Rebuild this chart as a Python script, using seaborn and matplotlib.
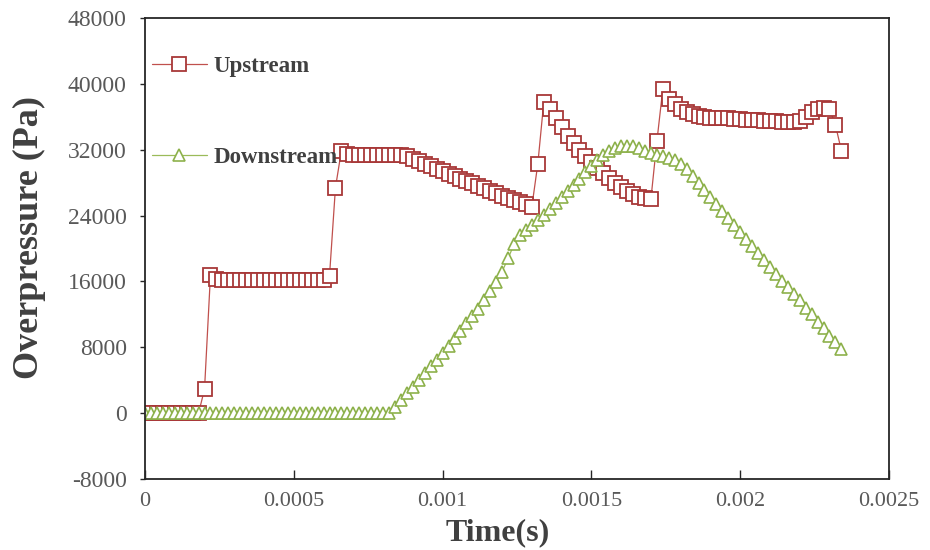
import numpy as np
import pandas as pd
import matplotlib
matplotlib.use("Agg")
import matplotlib.pyplot as plt
from matplotlib.font_manager import FontProperties
import seaborn as sns

# Sampling grid of the pressure probes (s)
time_s = np.round(np.arange(118) * 2e-5, 6)

# Overpressure recorded at the upstream probe (Pa)
upstream_pa = [
    0, 0, 0, 0, 0, 0, 0, 0, 0, 0,
    2900, 16800,
    16300, 16200, 16200, 16200, 16200, 16200, 16200, 16200, 16200, 16200,
    16200, 16200, 16200, 16200, 16200, 16200, 16200, 16200, 16200,
    16700, 27400, 31900, 31500,
    31400, 31400, 31400, 31400, 31400, 31400, 31400, 31400, 31400,
    31200, 30900, 30600, 30300, 30000, 29700, 29400, 29100, 28800, 28500,
    28200, 27900, 27600, 27300, 27000, 26700, 26400, 26100, 25900, 25600,
    25400, 25100,
    30300, 37800,
    36900, 35800, 34700, 33700, 32800, 32000, 31200, 30500, 29800, 29200,
    28600, 28000, 27500, 27000, 26600, 26300, 26100, 26000,
    33000, 39400,
    38200, 37600, 37000, 36600, 36300, 36100, 36000, 35900, 35900, 35800,
    35800, 35700, 35700, 35600, 35600, 35600, 35500, 35500, 35500, 35400,
    35400, 35400, 35500,
    36000, 36600, 37000, 37100, 37000, 35000, 31900,
]

# Overpressure recorded at the downstream probe (Pa)
downstream_pa = [
    0, 0, 0, 0, 0, 0, 0, 0, 0, 0, 0, 0, 0, 0,
    0, 0, 0, 0, 0, 0, 0, 0, 0, 0, 0, 0, 0, 0,
    0, 0, 0, 0, 0, 0, 0, 0, 0, 0, 0, 0, 0, 0,
    800, 1600, 2400, 3200, 4000, 4900, 5700, 6500, 7300, 8200,
    9100, 10000, 10900, 11800, 12700, 13700, 14800, 15900, 17200, 18800,
    20500,
    21600, 22300, 22900, 23500, 24100, 24800, 25500, 26200, 27000, 27700,
    28500, 29300, 30000, 30700, 31300, 31800, 32200, 32400, 32500, 32400,
    32200, 31900, 31600, 31400, 31200, 31000, 30800, 30300,
    29600, 28800, 28000, 27100, 26300, 25400, 24500, 23700, 22800, 22000,
    21100, 20300, 19400, 18600, 17700, 16900, 16100, 15300, 14500, 13700,
    12800, 12000, 11100, 10300, 9400, 8600, 7800,
]

series_names = ["Upstream", "Downstream"]
x_ticks = [0, 0.0005, 0.001, 0.0015, 0.002, 0.0025]
x_tick_labels = ["0", "0.0005", "0.001", "0.0015", "0.002", "0.0025"]
y_ticks = [-8000, 0, 8000, 16000, 24000, 32000, 40000, 48000]

sns.set_theme(style="white")
plt.rcParams["font.family"] = ["Liberation Serif", "DejaVu Serif"]

df_up = pd.DataFrame({"time": time_s, "pressure": upstream_pa})
df_down = pd.DataFrame({"time": time_s, "pressure": downstream_pa})

fig = plt.figure(figsize=(9.3, 5.5), dpi=100)
ax = fig.add_axes([145 / 930, 71 / 550, 744 / 930, 461 / 550])

red_line, red_edge = "#C0504D", "#A83838"
green_line, green_edge = "#9BBB59", "#8DB14B"

sns.lineplot(data=df_up, x="time", y="pressure", ax=ax, errorbar=None,
             color=red_line, linewidth=0.9, marker="s", markersize=10,
             markerfacecolor="white", markeredgecolor=red_edge,
             markeredgewidth=1.3, label=series_names[0])
sns.lineplot(data=df_down, x="time", y="pressure", ax=ax, errorbar=None,
             color=green_line, linewidth=0.9, marker="^", markersize=8.5,
             markerfacecolor="white", markeredgecolor=green_edge,
             markeredgewidth=1.2, label=series_names[1])

ax.set_xlim(0, 0.0025)
ax.set_ylim(-8000, 48000)
ax.set_xticks(x_ticks)
ax.set_xticklabels(x_tick_labels)
ax.set_yticks(y_ticks)
ax.set_yticklabels([str(v) for v in y_ticks])

tick_gray = "#595959"
ax.tick_params(axis="x", direction="in", length=6.5, width=1.0, pad=9,
               labelsize=16, labelcolor=tick_gray, color="#262626",
               bottom=True, top=False)
ax.tick_params(axis="y", direction="out", length=3.6, width=1.0, pad=9.5,
               labelsize=17, labelcolor=tick_gray, color="#262626",
               left=True, right=False)

for spine in ax.spines.values():
    spine.set_color("#262626")
    spine.set_linewidth(1.3)

ax.set_xlabel("Time(s)", fontsize=23, fontweight="bold", color="#404040",
              va="top")
ax.xaxis.set_label_coords(0.474, -0.0846)
ax.set_ylabel("Overpressure (Pa)", fontsize=26, fontweight="bold",
              color="#404040")
ax.yaxis.set_label_coords(-0.133, 0.523)

handles, labels = ax.get_legend_handles_labels()
ax.legend(handles, labels, loc="upper left", bbox_to_anchor=(0.009, 0.917),
          frameon=False, borderpad=0, borderaxespad=0, handlelength=2.4,
          handletextpad=0.3, labelspacing=3.05, numpoints=1,
          prop=FontProperties(family="Liberation Serif", weight="bold",
                              size=16.5),
          labelcolor="#404040")

fig.savefig("out.png", dpi=100, facecolor="white")
